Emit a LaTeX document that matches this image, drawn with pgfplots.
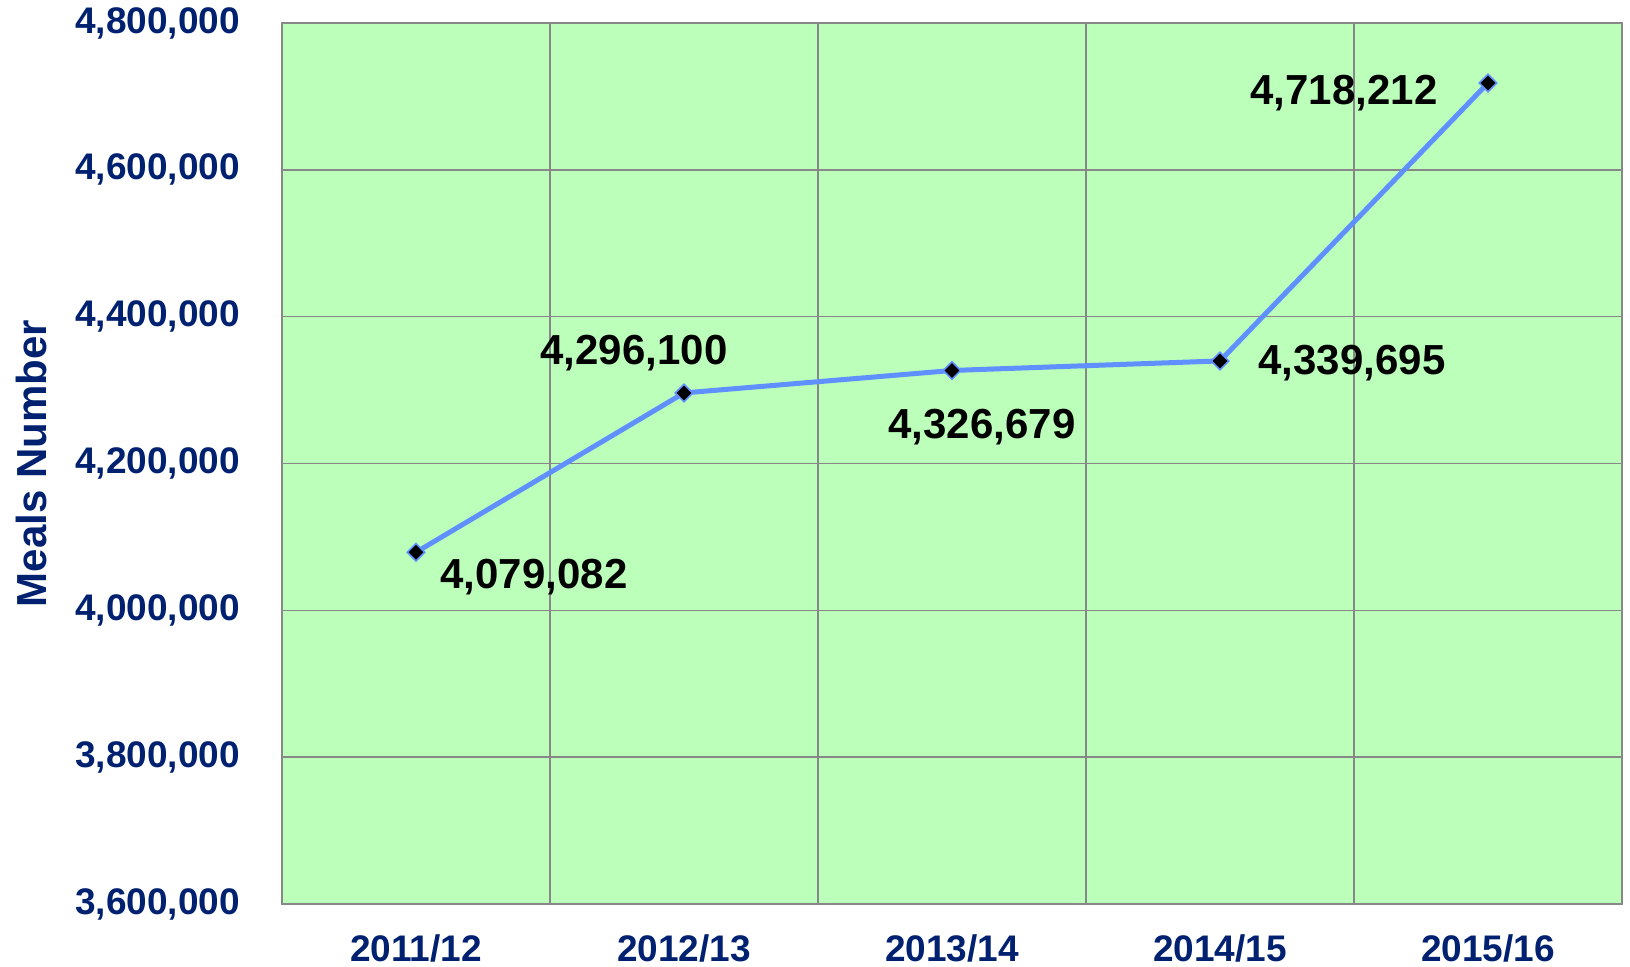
\documentclass[border=0pt]{standalone}
\usepackage{pgfplots}
\pgfplotsset{compat=1.18}
\usepackage{fontspec}
\setmainfont{Liberation Sans}
\definecolor{bggreen}{RGB}{187,255,187}
\definecolor{navy}{RGB}{0,32,112}
\definecolor{lineblue}{RGB}{96,144,255}
\definecolor{gridgray}{RGB}{136,136,136}
\begin{document}
\begin{tikzpicture}
\useasboundingbox (0,0) rectangle (815pt,483.5pt);
\begin{axis}[
  at={(141pt,31.5pt)}, anchor=south west,
  scale only axis, width=670pt, height=440.5pt,
  xmin=-0.5, xmax=4.5, ymin=3600000, ymax=4800000,
  xtick={0,1,2,3,4},
  xticklabels={2011/12,2012/13,2013/14,2014/15,2015/16},
  minor xtick={0.5,1.5,2.5,3.5},
  ytick={3600000,3800000,4000000,4200000,4400000,4600000,4800000},
  scaled y ticks=false,
  yticklabel style={/pgf/number format/fixed,/pgf/number format/1000 sep={,}},
  /pgf/number format/assume math mode=true,
  ymajorgrids, xminorgrids,
  major grid style={gridgray, line width=0.75pt},
  minor grid style={gridgray, line width=0.75pt},
  axis line style={gridgray, line width=0.9pt},
  major tick length=0pt, minor tick length=0pt,
  axis background/.style={fill=bggreen},
  tick label style={font=\fontsize{18.5}{22}\selectfont\bfseries, text=navy},
  yticklabel style={xshift=-17.5pt},
  xticklabel style={yshift=-12pt},
  ylabel={Meals Number},
  ylabel style={at={(axis description cs:-0.187,0.5)}, anchor=center, rotate=0,
    font=\fontsize{21}{25}\selectfont\bfseries, text=navy},
  clip=false,
]
\addplot[color=lineblue, line width=2.5pt, mark=square*,
  mark size=3.1pt, mark options={rotate=45, fill=black, draw=lineblue, line width=0.8pt}]
  coordinates {(0,4079082) (1,4296100) (2,4326679) (3,4339695) (4,4718212)};
\begin{scope}[every node/.style={font=\fontsize{21}{25}\selectfont\bfseries, text=black}]
\node[xshift=59pt, yshift=-12.5pt] at (axis cs:0,4079082) {4,079,082};
\node[xshift=-25pt, yshift=20pt] at (axis cs:1,4296100) {4,296,100};
\node[xshift=15pt, yshift=-28.5pt] at (axis cs:2,4326679) {4,326,679};
\node[xshift=66pt, yshift=-1pt] at (axis cs:3,4339695) {4,339,695};
\node[xshift=-72pt, yshift=-5pt] at (axis cs:4,4718212) {4,718,212};
\end{scope}
\end{axis}
\end{tikzpicture}
\end{document}
